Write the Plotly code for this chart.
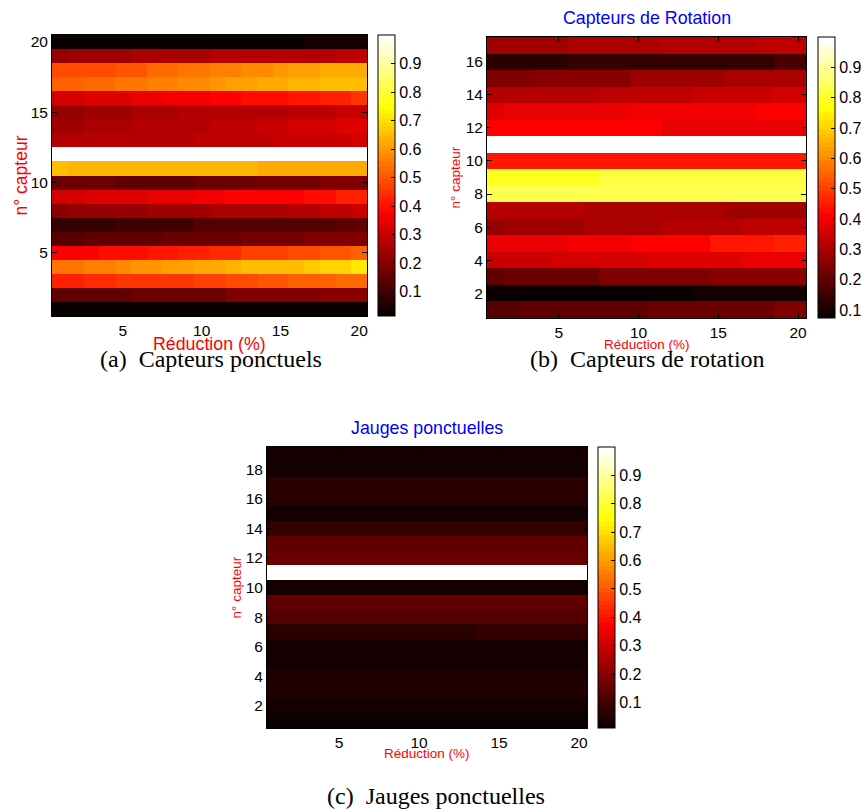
import plotly.graph_objects as go

W, H = 861, 809

# ---------------- data ----------------
reduction = [1, 2, 3, 4, 5, 6, 7, 8, 9, 10, 11, 12, 13, 14, 15, 16, 17, 18, 19, 20]
x_ticks = [5, 10, 15, 20]
cbar_ticks = [0.1, 0.2, 0.3, 0.4, 0.5, 0.6, 0.7, 0.8, 0.9]

# (a) Capteurs ponctuels : rows listed from capteur 20 (top) to capteur 1 (bottom)
capteurs_a = [20, 19, 18, 17, 16, 15, 14, 13, 12, 11, 10, 9, 8, 7, 6, 5, 4, 3, 2, 1]
a_r20 = [0.030, 0.030, 0.030, 0.030, 0.030, 0.030, 0.030, 0.030, 0.030, 0.030, 0.030, 0.030, 0.030, 0.030, 0.030, 0.030, 0.044, 0.044, 0.044, 0.044]
a_r19 = [0.218, 0.240, 0.240, 0.240, 0.240, 0.254, 0.254, 0.254, 0.254, 0.254, 0.269, 0.269, 0.269, 0.269, 0.276, 0.276, 0.276, 0.276, 0.290, 0.290]
a_r18 = [0.477, 0.477, 0.490, 0.490, 0.507, 0.507, 0.536, 0.536, 0.551, 0.551, 0.565, 0.565, 0.580, 0.580, 0.594, 0.609, 0.609, 0.616, 0.616, 0.630]
a_r17 = [0.514, 0.514, 0.530, 0.530, 0.543, 0.543, 0.556, 0.556, 0.575, 0.575, 0.594, 0.609, 0.609, 0.623, 0.623, 0.638, 0.638, 0.652, 0.660, 0.660]
a_r16 = [0.319, 0.319, 0.334, 0.334, 0.334, 0.348, 0.348, 0.363, 0.363, 0.363, 0.384, 0.384, 0.398, 0.398, 0.398, 0.413, 0.413, 0.427, 0.427, 0.449]
a_r15 = [0.218, 0.218, 0.232, 0.232, 0.232, 0.247, 0.247, 0.247, 0.265, 0.265, 0.265, 0.265, 0.276, 0.276, 0.276, 0.290, 0.290, 0.290, 0.305, 0.305]
a_r14 = [0.232, 0.232, 0.254, 0.254, 0.254, 0.270, 0.270, 0.276, 0.276, 0.276, 0.290, 0.290, 0.290, 0.305, 0.305, 0.319, 0.319, 0.319, 0.330, 0.330]
a_r13 = [0.265, 0.265, 0.265, 0.265, 0.276, 0.276, 0.276, 0.276, 0.276, 0.290, 0.290, 0.290, 0.290, 0.290, 0.305, 0.305, 0.305, 0.305, 0.305, 0.319]
a_r12 = [1.000, 1.000, 1.000, 1.000, 1.000, 1.000, 1.000, 1.000, 1.000, 1.000, 1.000, 1.000, 1.000, 1.000, 1.000, 1.000, 1.000, 1.000, 1.000, 1.000]
a_r11 = [0.659, 0.635, 0.635, 0.635, 0.635, 0.635, 0.635, 0.635, 0.635, 0.635, 0.635, 0.635, 0.635, 0.616, 0.616, 0.616, 0.616, 0.616, 0.616, 0.616]
a_r10 = [0.160, 0.160, 0.160, 0.160, 0.145, 0.145, 0.145, 0.145, 0.145, 0.160, 0.160, 0.160, 0.160, 0.182, 0.182, 0.182, 0.182, 0.196, 0.196, 0.196]
a_r09 = [0.319, 0.319, 0.327, 0.327, 0.327, 0.327, 0.341, 0.341, 0.341, 0.356, 0.356, 0.370, 0.370, 0.370, 0.384, 0.384, 0.398, 0.398, 0.420, 0.420]
a_r08 = [0.203, 0.218, 0.218, 0.218, 0.218, 0.218, 0.232, 0.232, 0.232, 0.232, 0.247, 0.247, 0.261, 0.261, 0.261, 0.276, 0.276, 0.290, 0.290, 0.305]
a_r07 = [0.087, 0.087, 0.087, 0.087, 0.102, 0.102, 0.102, 0.102, 0.102, 0.124, 0.124, 0.124, 0.124, 0.138, 0.138, 0.138, 0.138, 0.138, 0.153, 0.153]
a_r06 = [0.138, 0.138, 0.145, 0.145, 0.145, 0.145, 0.145, 0.167, 0.167, 0.167, 0.167, 0.167, 0.182, 0.182, 0.182, 0.182, 0.196, 0.196, 0.196, 0.196]
a_r05 = [0.370, 0.384, 0.384, 0.398, 0.398, 0.398, 0.413, 0.413, 0.427, 0.427, 0.442, 0.442, 0.464, 0.464, 0.464, 0.485, 0.485, 0.500, 0.500, 0.520]
a_r04 = [0.543, 0.543, 0.565, 0.565, 0.580, 0.594, 0.594, 0.609, 0.609, 0.630, 0.630, 0.645, 0.652, 0.652, 0.660, 0.660, 0.674, 0.688, 0.688, 0.710]
a_r03 = [0.427, 0.427, 0.435, 0.435, 0.449, 0.449, 0.456, 0.456, 0.456, 0.470, 0.470, 0.485, 0.485, 0.500, 0.500, 0.514, 0.514, 0.514, 0.530, 0.530]
a_r02 = [0.153, 0.153, 0.153, 0.153, 0.153, 0.167, 0.167, 0.167, 0.167, 0.167, 0.167, 0.189, 0.189, 0.189, 0.189, 0.189, 0.189, 0.203, 0.203, 0.203]
a_r01 = [0.015, 0.025, 0.025, 0.025, 0.025, 0.025, 0.025, 0.025, 0.025, 0.025, 0.025, 0.025, 0.025, 0.025, 0.025, 0.025, 0.025, 0.025, 0.025, 0.025]
a_ticks = [5, 10, 15, 20]

# (b) Capteurs de rotation : rows from capteur 17 (top) to 1 (bottom)
capteurs_b = [17, 16, 15, 14, 13, 12, 11, 10, 9, 8, 7, 6, 5, 4, 3, 2, 1]
b_r17 = [0.278, 0.278, 0.278, 0.278, 0.278, 0.292, 0.292, 0.292, 0.292, 0.292, 0.292, 0.312, 0.312, 0.312, 0.312, 0.312, 0.312, 0.326, 0.326, 0.326]
b_r16 = [0.128, 0.128, 0.128, 0.128, 0.128, 0.145, 0.145, 0.145, 0.145, 0.145, 0.145, 0.145, 0.145, 0.145, 0.145, 0.145, 0.145, 0.145, 0.163, 0.163]
b_r15 = [0.244, 0.244, 0.244, 0.262, 0.262, 0.262, 0.262, 0.262, 0.262, 0.281, 0.281, 0.281, 0.281, 0.281, 0.281, 0.295, 0.295, 0.295, 0.295, 0.295]
b_r14 = [0.319, 0.319, 0.319, 0.319, 0.319, 0.319, 0.319, 0.333, 0.333, 0.333, 0.333, 0.333, 0.333, 0.346, 0.346, 0.346, 0.346, 0.346, 0.360, 0.360]
b_r13 = [0.374, 0.387, 0.387, 0.387, 0.387, 0.387, 0.387, 0.387, 0.387, 0.405, 0.405, 0.405, 0.405, 0.405, 0.405, 0.405, 0.405, 0.421, 0.421, 0.421]
b_r12 = [0.421, 0.421, 0.408, 0.408, 0.408, 0.408, 0.408, 0.408, 0.408, 0.408, 0.408, 0.390, 0.390, 0.390, 0.390, 0.390, 0.390, 0.390, 0.390, 0.390]
b_r11 = [1.000, 1.000, 1.000, 1.000, 1.000, 1.000, 1.000, 1.000, 1.000, 1.000, 1.000, 1.000, 1.000, 1.000, 1.000, 1.000, 1.000, 1.000, 1.000, 1.000]
b_r10 = [0.442, 0.442, 0.442, 0.442, 0.442, 0.442, 0.442, 0.442, 0.442, 0.442, 0.442, 0.442, 0.442, 0.442, 0.442, 0.442, 0.442, 0.442, 0.442, 0.442]
b_r09 = [0.796, 0.796, 0.796, 0.796, 0.796, 0.796, 0.796, 0.823, 0.823, 0.823, 0.823, 0.823, 0.823, 0.823, 0.823, 0.823, 0.823, 0.823, 0.823, 0.823]
b_r08 = [0.832, 0.832, 0.832, 0.832, 0.832, 0.832, 0.832, 0.832, 0.832, 0.832, 0.832, 0.832, 0.832, 0.832, 0.832, 0.832, 0.832, 0.832, 0.832, 0.832]
b_r07 = [0.306, 0.306, 0.306, 0.306, 0.306, 0.306, 0.292, 0.292, 0.292, 0.292, 0.292, 0.292, 0.292, 0.292, 0.292, 0.278, 0.278, 0.278, 0.278, 0.278]
b_r06 = [0.265, 0.285, 0.285, 0.285, 0.285, 0.285, 0.299, 0.299, 0.299, 0.299, 0.299, 0.308, 0.308, 0.308, 0.308, 0.308, 0.322, 0.322, 0.322, 0.322]
b_r05 = [0.385, 0.385, 0.385, 0.385, 0.385, 0.404, 0.404, 0.404, 0.404, 0.421, 0.421, 0.421, 0.421, 0.421, 0.442, 0.442, 0.442, 0.442, 0.462, 0.462]
b_r04 = [0.346, 0.346, 0.346, 0.346, 0.360, 0.360, 0.360, 0.360, 0.360, 0.360, 0.371, 0.371, 0.371, 0.371, 0.371, 0.371, 0.385, 0.385, 0.385, 0.385]
b_r03 = [0.197, 0.210, 0.210, 0.210, 0.210, 0.210, 0.210, 0.235, 0.235, 0.235, 0.235, 0.235, 0.235, 0.235, 0.251, 0.251, 0.251, 0.251, 0.251, 0.251]
b_r02 = [0.074, 0.085, 0.085, 0.085, 0.085, 0.085, 0.085, 0.085, 0.085, 0.085, 0.085, 0.085, 0.085, 0.101, 0.101, 0.101, 0.101, 0.101, 0.101, 0.101]
b_r01 = [0.183, 0.183, 0.199, 0.199, 0.199, 0.199, 0.199, 0.199, 0.199, 0.199, 0.217, 0.217, 0.217, 0.217, 0.217, 0.217, 0.217, 0.217, 0.235, 0.235]
b_ticks = [2, 4, 6, 8, 10, 12, 14, 16]

# (c) Jauges ponctuelles : rows from capteur 19 (top) to 1 (bottom)
capteurs_c = [19, 18, 17, 16, 15, 14, 13, 12, 11, 10, 9, 8, 7, 6, 5, 4, 3, 2, 1]
c_r19 = [0.039, 0.039, 0.039, 0.039, 0.039, 0.039, 0.039, 0.039, 0.039, 0.039, 0.039, 0.039, 0.039, 0.039, 0.039, 0.039, 0.039, 0.039, 0.039, 0.039]
c_r18 = [0.039, 0.039, 0.039, 0.039, 0.039, 0.039, 0.039, 0.039, 0.039, 0.039, 0.039, 0.039, 0.039, 0.039, 0.039, 0.039, 0.039, 0.039, 0.039, 0.039]
c_r17 = [0.057, 0.057, 0.057, 0.057, 0.057, 0.057, 0.071, 0.071, 0.071, 0.071, 0.071, 0.071, 0.071, 0.071, 0.071, 0.071, 0.071, 0.071, 0.071, 0.071]
c_r16 = [0.068, 0.068, 0.068, 0.068, 0.068, 0.068, 0.068, 0.068, 0.068, 0.068, 0.068, 0.068, 0.068, 0.068, 0.068, 0.068, 0.068, 0.068, 0.068, 0.068]
c_r15 = [0.039, 0.039, 0.039, 0.039, 0.039, 0.039, 0.039, 0.039, 0.039, 0.039, 0.039, 0.039, 0.039, 0.039, 0.039, 0.039, 0.039, 0.039, 0.039, 0.039]
c_r14 = [0.083, 0.083, 0.083, 0.083, 0.083, 0.083, 0.083, 0.083, 0.083, 0.083, 0.083, 0.083, 0.083, 0.083, 0.083, 0.083, 0.083, 0.083, 0.083, 0.083]
c_r13 = [0.134, 0.134, 0.134, 0.134, 0.134, 0.134, 0.134, 0.134, 0.134, 0.134, 0.134, 0.134, 0.134, 0.134, 0.134, 0.134, 0.134, 0.134, 0.134, 0.134]
c_r12 = [0.163, 0.163, 0.163, 0.163, 0.163, 0.163, 0.163, 0.163, 0.163, 0.163, 0.163, 0.163, 0.163, 0.163, 0.163, 0.163, 0.163, 0.163, 0.163, 0.163]
c_r11 = [1.000, 1.000, 1.000, 1.000, 1.000, 1.000, 1.000, 1.000, 1.000, 1.000, 1.000, 1.000, 1.000, 1.000, 1.000, 1.000, 1.000, 1.000, 1.000, 1.000]
c_r10 = [0.039, 0.039, 0.039, 0.039, 0.039, 0.039, 0.039, 0.039, 0.039, 0.039, 0.039, 0.039, 0.039, 0.039, 0.039, 0.039, 0.039, 0.039, 0.039, 0.039]
c_r09 = [0.141, 0.141, 0.141, 0.141, 0.141, 0.141, 0.141, 0.141, 0.141, 0.141, 0.141, 0.141, 0.141, 0.141, 0.141, 0.141, 0.141, 0.141, 0.141, 0.141]
c_r08 = [0.119, 0.119, 0.119, 0.119, 0.119, 0.119, 0.119, 0.119, 0.119, 0.119, 0.119, 0.119, 0.119, 0.119, 0.119, 0.119, 0.119, 0.119, 0.119, 0.119]
c_r07 = [0.071, 0.071, 0.071, 0.071, 0.071, 0.071, 0.071, 0.071, 0.071, 0.071, 0.071, 0.071, 0.071, 0.086, 0.086, 0.086, 0.086, 0.086, 0.086, 0.086]
c_r06 = [0.039, 0.039, 0.039, 0.039, 0.039, 0.039, 0.039, 0.039, 0.039, 0.039, 0.039, 0.039, 0.039, 0.039, 0.039, 0.039, 0.039, 0.039, 0.039, 0.039]
c_r05 = [0.036, 0.036, 0.036, 0.036, 0.036, 0.036, 0.036, 0.036, 0.036, 0.036, 0.036, 0.036, 0.036, 0.036, 0.036, 0.036, 0.036, 0.036, 0.036, 0.036]
c_r04 = [0.051, 0.051, 0.051, 0.051, 0.051, 0.051, 0.051, 0.051, 0.051, 0.051, 0.051, 0.051, 0.051, 0.051, 0.051, 0.051, 0.051, 0.051, 0.051, 0.051]
c_r03 = [0.051, 0.051, 0.051, 0.051, 0.051, 0.051, 0.051, 0.051, 0.051, 0.051, 0.051, 0.051, 0.051, 0.051, 0.051, 0.051, 0.051, 0.051, 0.051, 0.051]
c_r02 = [0.036, 0.036, 0.036, 0.036, 0.036, 0.036, 0.036, 0.036, 0.036, 0.036, 0.036, 0.036, 0.036, 0.036, 0.036, 0.036, 0.036, 0.036, 0.036, 0.036]
c_r01 = [0.010, 0.025, 0.025, 0.025, 0.025, 0.025, 0.025, 0.025, 0.025, 0.025, 0.025, 0.025, 0.025, 0.025, 0.025, 0.025, 0.025, 0.025, 0.025, 0.025]
c_ticks = [2, 4, 6, 8, 10, 12, 14, 16, 18]

titles = ["", "Capteurs de Rotation", "Jauges ponctuelles"]
captions = ["(a)\u00a0\u00a0Capteurs ponctuels", "(b)\u00a0\u00a0Capteurs de rotation",
            "(c)\u00a0\u00a0Jauges ponctuelles"]
xlabel = "Réduction (%)"
ylabel = "n° capteur"

z_a = [a_r20, a_r19, a_r18, a_r17, a_r16, a_r15, a_r14, a_r13, a_r12, a_r11,
       a_r10, a_r09, a_r08, a_r07, a_r06, a_r05, a_r04, a_r03, a_r02, a_r01]
z_b = [b_r17, b_r16, b_r15, b_r14, b_r13, b_r12, b_r11, b_r10, b_r09, b_r08,
       b_r07, b_r06, b_r05, b_r04, b_r03, b_r02, b_r01]
z_c = [c_r19, c_r18, c_r17, c_r16, c_r15, c_r14, c_r13, c_r12, c_r11, c_r10,
       c_r09, c_r08, c_r07, c_r06, c_r05, c_r04, c_r03, c_r02, c_r01]

# ---------------- MATLAB "hot" colormap (64 steps) ----------------
def matlab_hot(m=64):
    n = (3 * m) // 8
    cols = []
    for i in range(m):
        r = min(1.0, (i + 1) / n)
        g = 0.0 if i < n else min(1.0, (i + 1 - n) / n)
        b = 0.0 if i < 2 * n else (i + 1 - 2 * n) / (m - 2 * n)
        cols.append("rgb(%d,%d,%d)" % (round(r * 255), round(g * 255), round(b * 255)))
    scale = []
    for i, c in enumerate(cols):
        scale.append([i / m, c])
        scale.append([(i + 1) / m, c])
    return scale

HOT = matlab_hot()
FONT = "Liberation Sans, Arial, Helvetica, sans-serif"


def px(x):
    return x / W


def py(y):
    return 1 - y / H


# panel geometry in pixels: (left, right, top, bottom), colorbar left
panels = [
    dict(l=52, r=367, t=35, b=316, cb=378, z=z_a, y=capteurs_a, yt=a_ticks, nrows=20,
         tickfs=15.5, xlabfs=17.8, ylabfs=17.5, ylabx=20, xlaby=344, tly=None),
    dict(l=487, r=806, t=37, b=318, cb=818, z=z_b, y=capteurs_b, yt=b_ticks, nrows=17,
         tickfs=15.5, xlabfs=13.5, ylabfs=13.5, ylabx=455, xlaby=344, tly=18),
    dict(l=267, r=587, t=447, b=728, cb=598, z=z_c, y=capteurs_c, yt=c_ticks, nrows=19,
         tickfs=15.5, xlabfs=13.5, ylabfs=13.5, ylabx=236, xlaby=753, tly=428),
]

fig = go.Figure()
layout_extra = {}
annotations = []

for k, p in enumerate(panels):
    sfx = "" if k == 0 else str(k + 1)
    ca = "coloraxis" + sfx
    fig.add_trace(go.Heatmap(
        x=reduction, y=p["y"], z=p["z"], coloraxis=ca,
        xaxis="x" + sfx, yaxis="y" + sfx, hoverinfo="skip"))
    allv = [v for row in p["z"] for v in row]
    layout_extra[ca] = dict(
        colorscale=HOT, cmin=min(allv), cmax=max(allv),
        colorbar=dict(
            x=px(p["cb"]), xanchor="left", xpad=0,
            y=py((p["t"] + p["b"]) / 2), yanchor="middle", ypad=0,
            len=p["b"] - p["t"], lenmode="pixels", thickness=17,
            outlinecolor="black", outlinewidth=1,
            tickvals=cbar_ticks, ticktext=[("%.1f" % v) for v in cbar_ticks],
            ticks="inside", ticklen=4, tickcolor="black",
            tickfont=dict(family=FONT, size=16, color="black"),
        ))
    axcommon = dict(showline=True, mirror="ticks", linecolor="black", linewidth=1,
                    ticks="inside", ticklen=5, tickcolor="black", showgrid=False,
                    zeroline=False, automargin=False,
                    tickfont=dict(family=FONT, size=p["tickfs"], color="black"))
    layout_extra["xaxis" + sfx] = dict(
        domain=[px(p["l"]), px(p["r"])], anchor="y" + sfx,
        range=[0.5, 20.5], tickvals=x_ticks, **axcommon)
    layout_extra["yaxis" + sfx] = dict(
        domain=[py(p["b"]), py(p["t"])], anchor="x" + sfx,
        range=[0.5, p["nrows"] + 0.5], tickvals=p["yt"], **axcommon)

    cx = (p["l"] + p["r"]) / 2
    annotations.append(dict(text=xlabel, x=px(cx), y=py(p["xlaby"]), xref="paper", yref="paper",
                            xanchor="center", yanchor="middle", showarrow=False,
                            font=dict(family=FONT, size=p["xlabfs"], color="#ff0000")))
    annotations.append(dict(text=ylabel, x=px(p["ylabx"]), y=py((p["t"] + p["b"]) / 2),
                            xref="paper", yref="paper", textangle=-90,
                            xanchor="center", yanchor="middle", showarrow=False,
                            font=dict(family=FONT, size=p["ylabfs"], color="#ff0000")))
    if titles[k]:
        annotations.append(dict(text=titles[k], x=px(cx), y=py(p["tly"]), xref="paper", yref="paper",
                                xanchor="center", yanchor="middle", showarrow=False,
                                font=dict(family=FONT, size=17.8, color="#0000ff")))

cap_pos = [(211, 359), (647, 359), (436, 796)]
for txt, (cxp, cyp) in zip(captions, cap_pos):
    annotations.append(dict(text=txt, x=px(cxp), y=py(cyp), xref="paper", yref="paper",
                            xanchor="center", yanchor="middle", showarrow=False,
                            font=dict(family="Liberation Serif, Times New Roman, serif",
                                      size=24, color="black")))

fig.update_layout(
    width=W, height=H, margin=dict(l=0, r=0, t=0, b=0, autoexpand=False),
    paper_bgcolor="white", plot_bgcolor="white",
    showlegend=False, annotations=annotations, **layout_extra)

fig.write_html(
    "out.html",
    config={"displayModeBar": False},
    post_script="document.body.style.margin='0';document.body.style.padding='0';"
                "document.body.style.overflow='hidden';")
